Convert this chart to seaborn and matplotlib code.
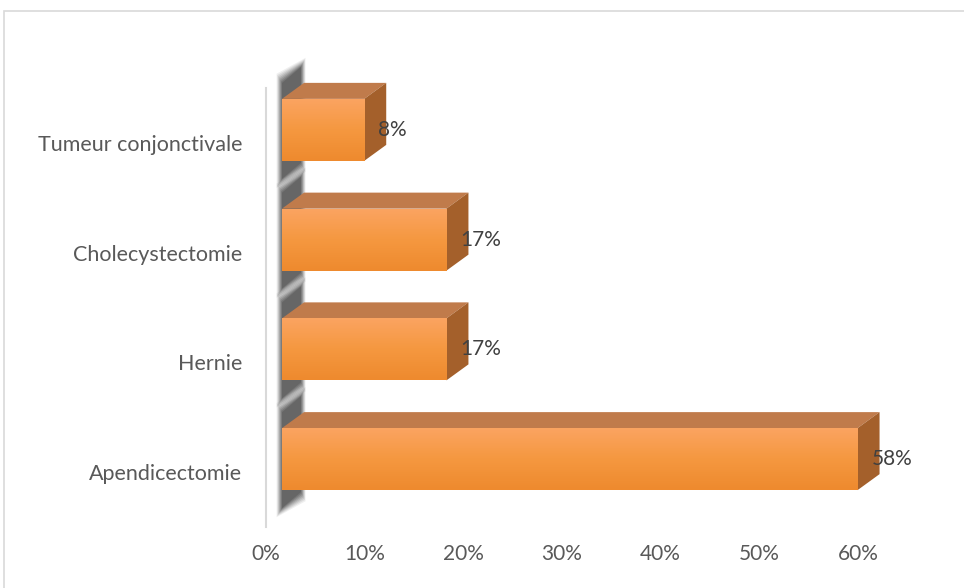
import numpy as np
import pandas as pd
import seaborn as sns
import matplotlib.pyplot as plt
from matplotlib import transforms
from matplotlib.patches import Polygon, Rectangle
from matplotlib.colors import LinearSegmentedColormap
from matplotlib.ticker import PercentFormatter

# data (12 patients -> 7 / 2 / 2 / 1)
categories = ["Tumeur conjonctivale", "Cholecystectomie", "Hernie", "Apendicectomie"]
values = [1 / 12, 2 / 12, 2 / 12, 7 / 12]
value_labels = ["8%", "17%", "17%", "58%"]

df = pd.DataFrame({"chirurgie": categories, "pct": values})

sns.set_theme(style="white")
plt.rcParams["font.family"] = ["Lato", "DejaVu Sans"]

DPI = 100
fig = plt.figure(figsize=(9.64, 5.88), dpi=DPI)
W, H = 964, 588
ax = fig.add_axes([266 / W, 1 - 527 / H, (858 - 266) / W, (527 - 88) / H])

sns.barplot(data=df, x="pct", y="chirurgie", orient="h", color="#F7963F",
            width=0.565, ax=ax, zorder=3)

ax.set_xlim(0, 0.6)
ax.set_ylim(3.5, -0.5)

# pixel sizes of the 3d look
off_x, off_y = 16, 13      # front face shift vs data
dx, dy = 22, 16            # depth
px_x = (858 - 266) / 0.6   # pixels per data unit in x
px_y = (527 - 88) / 4.0    # pixels per category in y

shift = transforms.ScaledTranslation(off_x / DPI, off_y / DPI, fig.dpi_scale_trans)
tr = ax.transData + shift

grad = LinearSegmentedColormap.from_list("g", ["#FBA462", "#F59840", "#EE8A2E"])
gimg = np.linspace(0, 1, 64).reshape(-1, 1)

for p in list(ax.patches):
    x0, w = p.get_x(), p.get_width()
    y0, h = p.get_y(), p.get_height()
    x1 = x0 + w
    ytop, ybot = y0, y0 + h   # inverted axis: smaller y is on top
    ddx = dx / px_x
    ddy = dy / px_y

    p.set_transform(tr)
    p.set_clip_on(False)
    p.set_edgecolor("none")

    # gradient on the front face
    im = ax.imshow(gimg, cmap=grad, aspect="auto", extent=(x0, x1, ybot, ytop),
                   transform=tr, zorder=4, interpolation="bilinear")
    im.set_clip_path(p)

    # blurred shadow behind the left edge
    n = 8
    for k in range(n):
        grow = (n - 1 - k) * 1.3          # px, outer layers bigger and lighter
        a = 0.07 + 0.13 * k / (n - 1)
        lx = x0 + (0 - grow * 0.6) / px_x
        rx = x0 + (ddx * px_x - 3 + grow * 0.5) / px_x
        ty = ytop - (16 + grow) / px_y
        by = ybot + (18 + grow) / px_y
        sh = Polygon([(lx, ty), (rx, ty - ddy), (rx, by - ddy), (lx, by)],
                     closed=True, facecolor="#262626", edgecolor="none", alpha=a,
                     transform=tr, zorder=2, clip_on=False)
        ax.add_patch(sh)

    top = Polygon([(x0, ytop), (x1, ytop), (x1 + ddx, ytop - ddy), (x0 + ddx, ytop - ddy)],
                  closed=True, facecolor="#C07B4B", edgecolor="none",
                  transform=tr, zorder=3, clip_on=False)
    side = Polygon([(x1, ytop), (x1 + ddx, ytop - ddy), (x1 + ddx, ybot - ddy), (x1, ybot)],
                   closed=True, facecolor="#A4602B", edgecolor="none",
                   transform=tr, zorder=3, clip_on=False)
    ax.add_patch(top)
    ax.add_patch(side)

ax.set_xlim(0, 0.6)
ax.set_ylim(3.5, -0.5)

# value labels
for i, (v, lab) in enumerate(zip(values, value_labels)):
    ax.annotate(lab, xy=(v, i), xytext=((off_x + 14) * 0.72, off_y * 0.72),
                textcoords="offset points", ha="left", va="center",
                fontsize=15, color="#404040", zorder=6, annotation_clip=False)

ax.xaxis.set_major_formatter(PercentFormatter(1.0, decimals=0))
ax.set_xticks(np.arange(0, 0.61, 0.1))
ax.set_xlabel("")
ax.set_ylabel("")
ax.tick_params(axis="x", length=0, pad=12, labelsize=15, colors="#595959")
ax.tick_params(axis="y", length=0, pad=17, labelsize=15.5, colors="#595959")

for s in ["top", "right", "bottom"]:
    ax.spines[s].set_visible(False)
ax.spines["left"].set_color("#D9D9D9")
ax.spines["left"].set_linewidth(1.5)

# chart border
fig.patches.append(Rectangle((4 / W, -0.05), 1.1, 1 - 11 / H + 0.05,
                             transform=fig.transFigure, fill=False,
                             edgecolor="#D9D9D9", linewidth=1.2))

fig.savefig("out.png", dpi=DPI)
